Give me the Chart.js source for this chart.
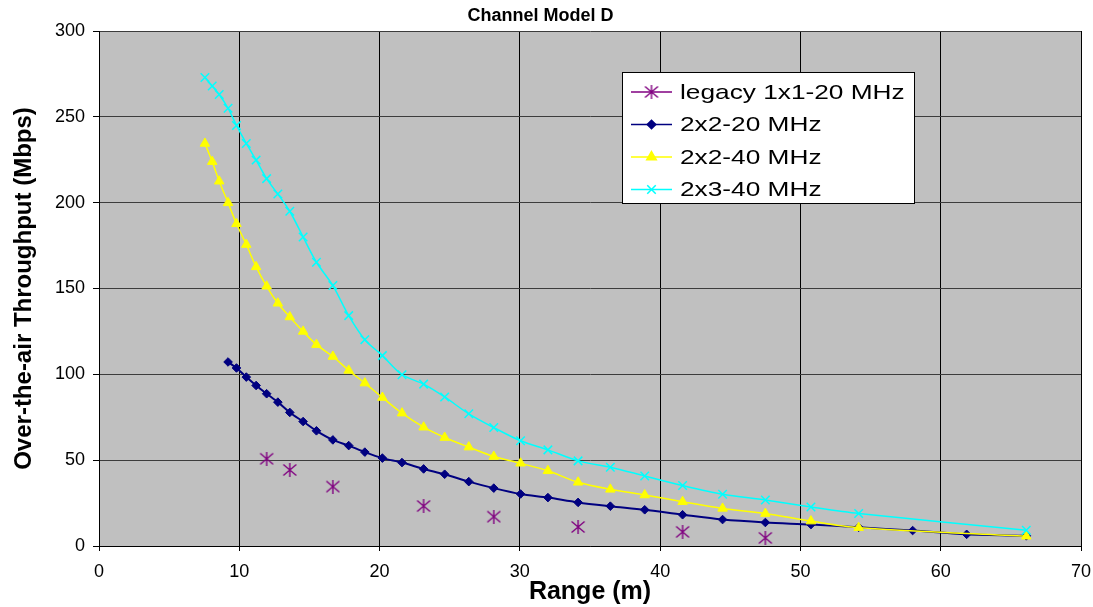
<!DOCTYPE html>
<html>
<head>
<meta charset="utf-8">
<title>Channel Model D</title>
<script src="https://cdn.jsdelivr.net/npm/chart.js@4/dist/chart.umd.min.js"></script>
<style>
  html, body { margin: 0; padding: 0; background: #fff; }
  canvas { display: block; }
</style>
</head>
<body>
<canvas id="rangeChart" width="1093" height="607"></canvas>
<script>
// distanze (m) misurate sul grafico
var ranges = [7.55, 8.07, 8.57, 9.2, 9.8, 10.5, 11.2, 11.95, 12.75, 13.6, 14.55, 15.5, 16.67, 17.8, 18.95,
  20.2, 21.6, 23.14, 24.64, 26.36, 28.14, 30.05, 32.0, 34.15, 36.45, 38.9, 41.6, 44.45, 47.5, 50.75,
  54.15, 58.0, 61.85, 66.1];

var seriesNames = ['legacy 1x1-20 MHz', '2x2-20 MHz', '2x2-40 MHz', '2x3-40 MHz'];

var legacy1x1_20 = [null, null, null, null, null, null, null, 50.8, null, 44.3, null, null, 34.6, null, null,
  null, null, 23.3, null, null, 17.1, null, null, 11.1, null, null, 8.2, null, 4.7, null,
  null, null, null, null];
var mimo2x2_20 = [null, null, null, 107.2, 103.7, 98.4, 93.5, 88.7, 83.8, 77.8, 72.5, 67.1, 61.8, 58.5, 54.7,
  51.2, 48.6, 44.9, 41.8, 37.5, 33.7, 30.3, 28.2, 25.4, 23.2, 21.1, 18.2, 15.4, 13.7, 12.5,
  10.9, 9.0, 6.8, 5.9];
var mimo2x2_40 = [234.5, 223.9, 212.5, 199.9, 187.7, 175.6, 162.6, 151.3, 141.4, 133.4, 125, 117.3, 110.4, 102.3, 94.9,
  86.5, 77.4, 69.2, 63.2, 57.6, 52.1, 48.2, 43.8, 37.1, 33.0, 29.7, 25.8, 21.9, 18.9, 14.5,
  10.7, null, null, 5.7];
var mimo2x3_40 = [272.9, 268, 263, 255, 245, 234.5, 224.8, 214, 205, 195, 180, 165.3, 151.7, 134.2, 120.2,
  110.9, 99.8, 94.3, 86.8, 77, 69, 61.3, 56, 49.6, 45.9, 40.8, 35.2, 30.1, 26.8, 22.7,
  18.9, null, null, 9.2];

var xTicks = [0, 10, 20, 30, 40, 50, 60, 70];
var yTicks = [0, 50, 100, 150, 200, 250, 300];

function toPoints(values) {
  var pts = [];
  for (var i = 0; i < values.length; i++) {
    if (values[i] !== null) pts.push({ x: ranges[i], y: values[i] });
  }
  return pts;
}

// asterisco stile Excel (X + barra verticale)
function makeStar(color) {
  var c = document.createElement('canvas');
  c.width = 16; c.height = 14;
  var g = c.getContext('2d');
  g.strokeStyle = color;
  g.lineWidth = 1.4;
  g.beginPath();
  g.moveTo(1.5, 1.5); g.lineTo(14.5, 12.5);
  g.moveTo(14.5, 1.5); g.lineTo(1.5, 12.5);
  g.moveTo(8, 0); g.lineTo(8, 14);
  g.stroke();
  return c;
}
var starMarker = makeStar('#800080');

var FONT = "'Liberation Sans', Arial, sans-serif";

// sfondo grigio dell'area del grafico
var plotBackground = {
  id: 'plotBackground',
  beforeDraw: function (chart) {
    var a = chart.chartArea, ctx = chart.ctx;
    ctx.save();
    ctx.fillStyle = '#c0c0c0';
    ctx.fillRect(a.left, a.top, a.right - a.left, a.bottom - a.top);
    ctx.restore();
  }
};

// legenda con riquadro dentro il grafico
var boxLegend = {
  id: 'boxLegend',
  afterDraw: function (chart, args, opts) {
    var ctx = chart.ctx;
    ctx.save();
    ctx.fillStyle = '#fff';
    ctx.fillRect(opts.left, opts.top, opts.width, opts.height);
    ctx.strokeStyle = '#000';
    ctx.lineWidth = 1;
    ctx.strokeRect(opts.left + 0.5, opts.top + 0.5, opts.width, opts.height);
    chart.data.datasets.forEach(function (ds, i) {
      var y = opts.top + opts.firstRow + i * opts.rowGap;
      var lx = opts.left + 9;
      ctx.strokeStyle = ds.borderColor;
      ctx.lineWidth = 1.5;
      ctx.beginPath();
      ctx.moveTo(lx, y); ctx.lineTo(lx + 41, y);
      ctx.stroke();
      ctx.fillStyle = ds.pointBackgroundColor || ds.borderColor;
      ctx.strokeStyle = ds.pointBorderColor || ds.borderColor;
      Chart.helpers.drawPoint(ctx, {
        pointStyle: ds.pointStyle, radius: ds.pointRadius,
        rotation: 0, borderWidth: ds.pointBorderWidth || 1
      }, lx + 20.5, y);
      ctx.save();
      ctx.translate(opts.left + 58, y + 1);
      ctx.scale(1.25, 1);
      ctx.fillStyle = '#000';
      ctx.font = '21px ' + FONT;
      ctx.textBaseline = 'middle';
      ctx.fillText(ds.label, 0, 0);
      ctx.restore();
    });
    ctx.restore();
  }
};

var ctx = document.getElementById('rangeChart').getContext('2d');
var rangeChart = new Chart(ctx, {
  type: 'scatter',
  data: {
    datasets: [{
      label: seriesNames[0],
      data: toPoints(legacy1x1_20),
      showLine: false,
      borderColor: '#800080',
      pointStyle: starMarker,
      pointRadius: 7,
      order: 4
    }, {
      label: seriesNames[1],
      data: toPoints(mimo2x2_20),
      showLine: true,
      borderColor: '#000080',
      backgroundColor: '#000080',
      pointBackgroundColor: '#000080',
      borderWidth: 2,
      pointStyle: 'rectRot',
      pointRadius: 4.3,
      pointBorderWidth: 1,
      tension: 0.3,
      order: 3
    }, {
      label: seriesNames[2],
      data: toPoints(mimo2x2_40),
      showLine: true,
      borderColor: '#ffff00',
      backgroundColor: '#ffff00',
      pointBackgroundColor: '#ffff00',
      borderWidth: 1.5,
      pointStyle: 'triangle',
      pointRadius: 5.5,
      pointBorderWidth: 1,
      tension: 0.3,
      order: 2
    }, {
      label: seriesNames[3],
      data: toPoints(mimo2x3_40),
      showLine: true,
      borderColor: '#00ffff',
      backgroundColor: '#00ffff',
      borderWidth: 1.5,
      pointStyle: 'crossRot',
      pointRadius: 6,
      pointBorderWidth: 1.5,
      tension: 0.3,
      order: 1
    }]
  },
  options: {
    responsive: false,
    animation: false,
    layout: { padding: { left: 0, right: 12, top: 0, bottom: 0 } },
    plugins: {
      legend: { display: false },
      tooltip: { enabled: false },
      title: {
        display: true,
        text: 'Channel Model D',
        color: '#000',
        font: { family: FONT, size: 18, weight: 'bold' },
        padding: { top: 5, bottom: 4.4 }
      },
      boxLegend: { left: 622, top: 72, width: 292, height: 131, firstRow: 20, rowGap: 32.5 }
    },
    scales: {
      x: {
        type: 'linear',
        min: xTicks[0],
        max: xTicks[xTicks.length - 1],
        afterBuildTicks: function (scale) {
          scale.ticks = xTicks.map(function (v) { return { value: v }; });
        },
        afterFit: function (scale) {
          scale.height = 61;
          scale.paddingLeft = 0;
          scale.paddingRight = 0;
        },
        grid: { color: '#000', lineWidth: 1, tickLength: 5, tickColor: '#000' },
        border: { color: '#000', width: 1 },
        ticks: { color: '#000', padding: 10, maxRotation: 0, font: { family: FONT, size: 18 } },
        title: {
          display: true,
          text: 'Range (m)',
          color: '#000',
          font: { family: FONT, size: 25, weight: 'bold' },
          padding: { top: 0, bottom: 0 }
        }
      },
      y: {
        type: 'linear',
        min: yTicks[0],
        max: yTicks[yTicks.length - 1],
        afterBuildTicks: function (scale) {
          scale.ticks = yTicks.map(function (v) { return { value: v }; });
        },
        afterFit: function (scale) { scale.width = 99; },
        grid: { color: '#3c3c3c', lineWidth: 1, tickLength: 6, tickColor: '#000' },
        border: { color: '#000', width: 1 },
        ticks: { color: '#000', padding: 8, font: { family: FONT, size: 18 } },
        title: {
          display: true,
          text: 'Over-the-air Throughput (Mbps)',
          color: '#000',
          font: { family: FONT, size: 24, weight: 'bold' },
          padding: { top: 10, bottom: 0 }
        }
      }
    }
  },
  plugins: [plotBackground, boxLegend]
});
</script>
</body>
</html>
